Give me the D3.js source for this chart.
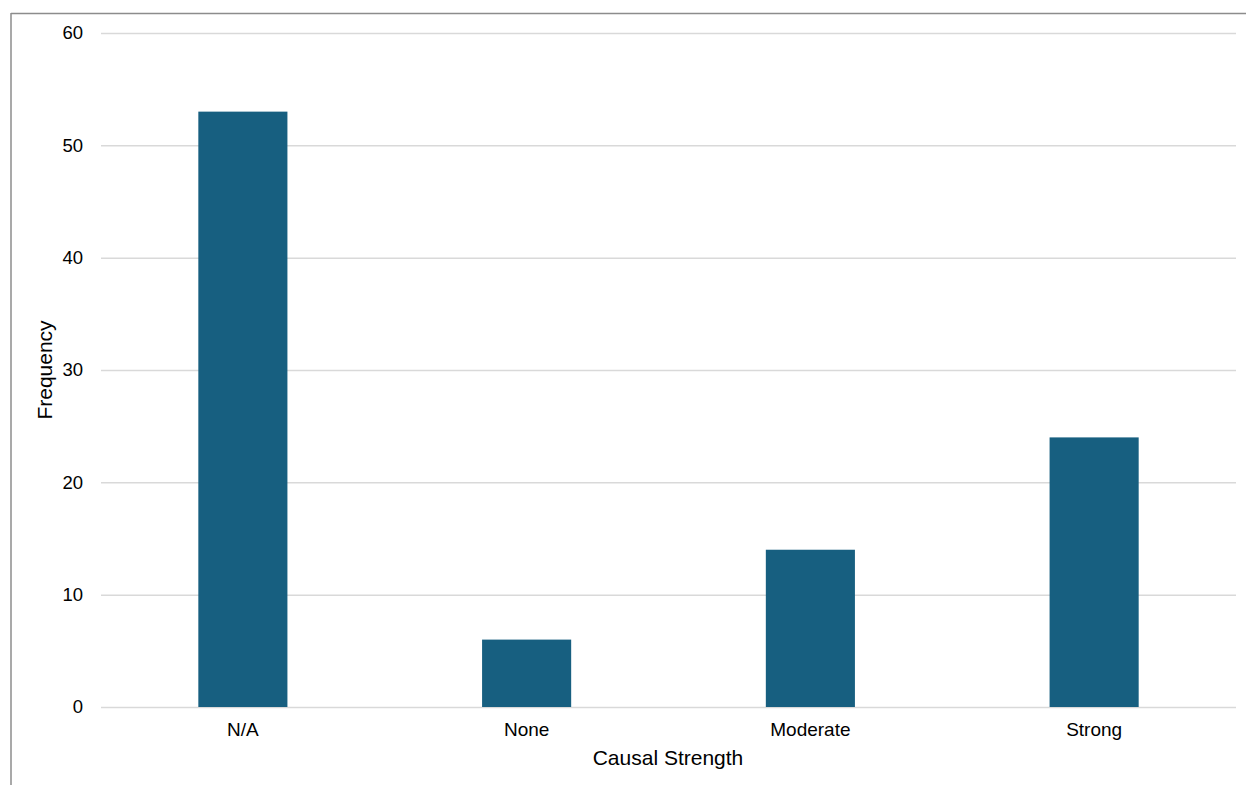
<!DOCTYPE html>
<html>
<head>
<meta charset="utf-8">
<script src="https://cdn.jsdelivr.net/npm/d3@7"></script>
<style>
  body { margin: 0; background: #fff; }
  svg { font-family: "Liberation Sans", Arial, sans-serif; }
</style>
</head>
<body>
<div id="chart"></div>
<script>
// chart data
var categories = ["N/A", "None", "Moderate", "Strong"]
var frequency = [53, 6, 14, 24]
var yTicks = [0, 10, 20, 30, 40, 50, 60]

var width = 1246, height = 785
var margin = {top: 33, right: 10, bottom: 78, left: 101}

var svg = d3.select('#chart')
    .append('svg')
    .attr('width', width)
    .attr('height', height)

// outer frame (top and left edges visible)
svg.append('line')
    .attr('x1', 11).attr('x2', width)
    .attr('y1', 13.5).attr('y2', 13.5)
    .attr('stroke', '#8c8c8c').attr('stroke-width', 1.5)
svg.append('line')
    .attr('x1', 11).attr('x2', 11)
    .attr('y1', 13).attr('y2', height)
    .attr('stroke', '#8c8c8c').attr('stroke-width', 1.5)

var xScale = d3.scaleBand()
    .domain(categories)
    .range([margin.left, width - margin.right])
    .paddingInner(0.686)
    .paddingOuter(0.343)

var yScale = d3.scaleLinear()
    .domain([0, 60])
    .range([height - margin.bottom, margin.top])

// gridlines
var yAxis = d3.axisLeft(yScale)
    .tickValues(yTicks)
    .tickSize(-(width - margin.right - margin.left))
    .tickPadding(18)
var gy = svg.append('g')
    .attr('transform', 'translate(' + margin.left + ',0)')
    .call(yAxis)
gy.select('.domain').remove()
gy.selectAll('.tick line')
    .attr('stroke', '#d9d9d9')
    .attr('stroke-width', 1.5)
gy.selectAll('.tick text')
    .attr('font-size', 18.5)
    .attr('fill', '#000')
    .attr('font-family', '"Liberation Sans", Arial, sans-serif')

// bars
svg.selectAll('rect.bar')
    .data(frequency)
    .enter().append('rect')
    .attr('class', 'bar')
    .attr('x', function(d, i) { return xScale(categories[i]) })
    .attr('width', xScale.bandwidth())
    .attr('y', function(d) { return yScale(d) })
    .attr('height', function(d) { return yScale(0) - yScale(d) })
    .attr('fill', '#175f80')

// x axis labels
var xAxis = d3.axisBottom(xScale).tickSize(0).tickPadding(16)
var gx = svg.append('g')
    .attr('transform', 'translate(0,' + (height - margin.bottom) + ')')
    .call(xAxis)
gx.select('.domain').remove()
gx.selectAll('.tick text')
    .attr('font-size', 19)
    .attr('fill', '#000')
    .attr('font-family', '"Liberation Sans", Arial, sans-serif')

// axis titles
svg.append('text')
    .attr('x', 668)
    .attr('y', 765)
    .attr('text-anchor', 'middle')
    .attr('font-size', 21)
    .text('Causal Strength')

svg.append('text')
    .attr('transform', 'translate(52,370) rotate(-90)')
    .attr('text-anchor', 'middle')
    .attr('font-size', 21)
    .text('Frequency')
</script>
</body>
</html>
